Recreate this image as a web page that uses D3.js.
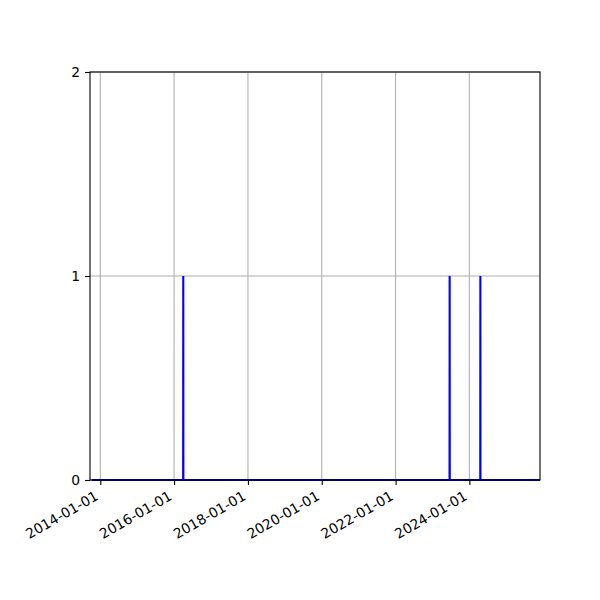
<!DOCTYPE html>
<html>
<head>
<meta charset="utf-8">
<script src="https://cdn.jsdelivr.net/npm/d3@7"></script>
<style>
  body { margin: 0; background: #fff; }
  text { font-family: "DejaVu Sans", sans-serif; font-size: 13.9px; fill: #000; }
</style>
</head>
<body>
<div id="chart"></div>
<script>
// counts per day: zero everywhere except these event days
const eventDates = ["2016-04-01", "2023-06-20", "2024-04-19"];
const eventCounts = [1, 1, 1];
const seriesStart = "2013-10-08";
const seriesEnd = "2025-11-30";
const xLimits = ["2013-09-21", "2025-11-30"];
const xTickLabels = ["2014-01-01", "2016-01-01", "2018-01-01", "2020-01-01", "2022-01-01", "2024-01-01"];
const yTicks = [0, 1, 2];

const parse = d3.utcParse("%Y-%m-%d");
const day = 864e5;

// build the line points: baseline 0, one-day spike at each event
const points = [{ date: parse(seriesStart), v: 0 }];
eventDates.forEach((d, i) => {
  const t = parse(d);
  points.push({ date: new Date(+t - day), v: 0 });
  points.push({ date: t, v: eventCounts[i] });
  points.push({ date: new Date(+t + day), v: 0 });
});
points.push({ date: parse(seriesEnd), v: 0 });

const margin = { top: 72, right: 60, bottom: 120, left: 90 };
const width = 600 - margin.left - margin.right;
const height = 600 - margin.top - margin.bottom;

const svg = d3.select("#chart")
  .append("svg")
  .attr("width", 600)
  .attr("height", 600)
  .append("g")
  .attr("transform", `translate(${margin.left},${margin.top})`);

const x = d3.scaleUtc()
  .domain(xLimits.map(parse))
  .range([0, width]);

const y = d3.scaleLinear()
  .domain([0, 2])
  .range([height, 0]);

const xTicks = xTickLabels.map(parse);

// grid
svg.append("g")
  .selectAll("line")
  .data(xTicks)
  .enter().append("line")
  .attr("x1", d => x(d)).attr("x2", d => x(d))
  .attr("y1", 0).attr("y2", height)
  .attr("stroke", "#b0b0b0").attr("stroke-width", 1.1);

svg.append("g")
  .selectAll("line")
  .data(yTicks)
  .enter().append("line")
  .attr("x1", 0).attr("x2", width)
  .attr("y1", d => y(d)).attr("y2", d => y(d))
  .attr("stroke", "#b0b0b0").attr("stroke-width", 1.1);

// the series
const line = d3.line()
  .x(d => x(d.date))
  .y(d => y(d.v));

svg.append("path")
  .datum(points)
  .attr("fill", "none")
  .attr("stroke", "#0000ff")
  .attr("stroke-width", 2.1)
  .attr("stroke-linejoin", "miter")
  .attr("d", line);

// axes
const xAxis = svg.append("g")
  .attr("transform", `translate(0,${height})`)
  .call(d3.axisBottom(x).tickValues(xTicks).tickSize(4.9).tickPadding(0).tickFormat(""));
xAxis.select(".domain").remove();
xAxis.selectAll(".tick line").attr("stroke", "#000").attr("stroke-width", 1.1);

xAxis.selectAll(".tick")
  .append("text")
  .attr("text-anchor", "end")
  .attr("transform", "translate(-1.6,18.9) rotate(-30)")
  .text((d, i) => xTickLabels[i]);

const yAxis = svg.append("g")
  .call(d3.axisLeft(y).tickValues(yTicks).tickSize(4.9).tickPadding(4.9).tickFormat(d3.format("d")));
yAxis.select(".domain").remove();
yAxis.selectAll(".tick line").attr("stroke", "#000").attr("stroke-width", 1.1);
yAxis.selectAll(".tick text").attr("fill", "#000").style("font-size", "13.9px");

// frame
svg.append("rect")
  .attr("width", width)
  .attr("height", height)
  .attr("fill", "none")
  .attr("stroke", "#000")
  .attr("stroke-width", 1.1);
</script>
</body>
</html>
